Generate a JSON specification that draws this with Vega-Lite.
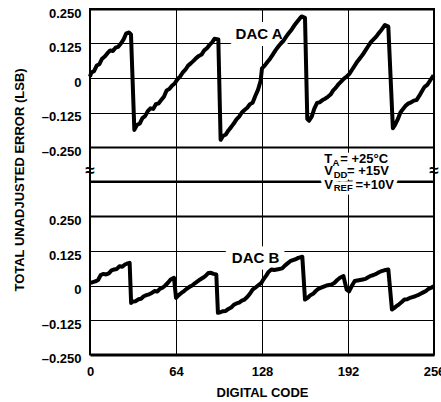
{
  "$schema": "https://vega.github.io/schema/vega-lite/v6.json",
  "padding": {"left": 12, "top": 6, "right": 0, "bottom": 0},
  "spacing": 0,
  "bounds": "flush",
  "resolve": {"scale": {"x": "independent", "y": "independent"}},
  "config": {
    "font": "Liberation Sans",
    "view": {"stroke": "black", "strokeWidth": 2},
    "axis": {
      "labelFont": "Liberation Sans", "labelFontWeight": "bold", "labelFontSize": 13, "labelColor": "black",
      "titleFont": "Liberation Sans", "titleFontWeight": "bold", "titleFontSize": 13, "titleColor": "black",
      "gridColor": "black", "gridOpacity": 1, "domain": false, "ticks": false, "tickSize": 0
    }
  },
  "datasets": {
    "dacA": [
      {"code": 0, "err": 0.005}, {"code": 1, "err": 0.02}, {"code": 3, "err": 0.025}, {"code": 5, "err": 0.045},
      {"code": 7, "err": 0.05}, {"code": 9, "err": 0.07}, {"code": 11, "err": 0.078}, {"code": 13, "err": 0.09},
      {"code": 15, "err": 0.1}, {"code": 17, "err": 0.098}, {"code": 19, "err": 0.11}, {"code": 21, "err": 0.113},
      {"code": 23, "err": 0.125}, {"code": 25, "err": 0.14}, {"code": 27, "err": 0.162}, {"code": 29, "err": 0.165},
      {"code": 30.5, "err": 0.158}, {"code": 33, "err": -0.188}, {"code": 35, "err": -0.17}, {"code": 37, "err": -0.165},
      {"code": 39, "err": -0.145}, {"code": 41, "err": -0.138}, {"code": 43, "err": -0.12}, {"code": 45, "err": -0.11},
      {"code": 47, "err": -0.112}, {"code": 49, "err": -0.095}, {"code": 51, "err": -0.092}, {"code": 53, "err": -0.08},
      {"code": 55, "err": -0.068}, {"code": 57, "err": -0.045}, {"code": 59, "err": -0.04}, {"code": 61, "err": -0.028},
      {"code": 63, "err": -0.02}, {"code": 65, "err": -0.005}, {"code": 67, "err": 0.005}, {"code": 69, "err": 0.02},
      {"code": 71, "err": 0.03}, {"code": 73, "err": 0.045}, {"code": 75, "err": 0.053}, {"code": 77, "err": 0.062},
      {"code": 79, "err": 0.072}, {"code": 81, "err": 0.08}, {"code": 83, "err": 0.085}, {"code": 85, "err": 0.1},
      {"code": 87, "err": 0.108}, {"code": 89, "err": 0.12}, {"code": 91, "err": 0.13}, {"code": 92.6, "err": 0.142},
      {"code": 95.5, "err": 0.14}, {"code": 97.2, "err": -0.224}, {"code": 99, "err": -0.21}, {"code": 101, "err": -0.205},
      {"code": 103, "err": -0.19}, {"code": 105, "err": -0.178}, {"code": 107, "err": -0.165}, {"code": 109, "err": -0.15},
      {"code": 111, "err": -0.14}, {"code": 113, "err": -0.125}, {"code": 115, "err": -0.116}, {"code": 117, "err": -0.108},
      {"code": 119, "err": -0.095}, {"code": 121, "err": -0.09}, {"code": 123, "err": -0.065}, {"code": 125, "err": -0.043},
      {"code": 127, "err": -0.01}, {"code": 128, "err": 0.035}, {"code": 130, "err": 0.045}, {"code": 132, "err": 0.058},
      {"code": 134, "err": 0.07}, {"code": 136, "err": 0.085}, {"code": 138, "err": 0.1}, {"code": 140, "err": 0.113},
      {"code": 142, "err": 0.125}, {"code": 144, "err": 0.135}, {"code": 146, "err": 0.15}, {"code": 148, "err": 0.163},
      {"code": 150, "err": 0.175}, {"code": 152, "err": 0.19}, {"code": 154, "err": 0.203}, {"code": 156, "err": 0.215},
      {"code": 157.5, "err": 0.223}, {"code": 160, "err": 0.218}, {"code": 161.7, "err": -0.148}, {"code": 163, "err": -0.155},
      {"code": 165, "err": -0.14}, {"code": 167, "err": -0.11}, {"code": 169, "err": -0.09}, {"code": 171, "err": -0.088},
      {"code": 173, "err": -0.08}, {"code": 175, "err": -0.075}, {"code": 177, "err": -0.068}, {"code": 179, "err": -0.06},
      {"code": 181, "err": -0.045}, {"code": 183, "err": -0.035}, {"code": 185, "err": -0.022}, {"code": 187, "err": -0.012},
      {"code": 189, "err": -0.002}, {"code": 191, "err": 0.005}, {"code": 193, "err": 0.015}, {"code": 195, "err": 0.03},
      {"code": 197, "err": 0.045}, {"code": 199, "err": 0.06}, {"code": 201, "err": 0.072}, {"code": 203, "err": 0.085},
      {"code": 205, "err": 0.1}, {"code": 207, "err": 0.115}, {"code": 209, "err": 0.13}, {"code": 211, "err": 0.14},
      {"code": 213, "err": 0.15}, {"code": 215, "err": 0.163}, {"code": 217, "err": 0.175}, {"code": 219.5, "err": 0.192},
      {"code": 222, "err": 0.186}, {"code": 225.4, "err": -0.182}, {"code": 227, "err": -0.17}, {"code": 229, "err": -0.15},
      {"code": 231, "err": -0.125}, {"code": 233, "err": -0.112}, {"code": 235, "err": -0.1}, {"code": 237, "err": -0.092},
      {"code": 239, "err": -0.088}, {"code": 241, "err": -0.082}, {"code": 243, "err": -0.08}, {"code": 245, "err": -0.065},
      {"code": 247, "err": -0.048}, {"code": 249, "err": -0.032}, {"code": 251, "err": -0.025}, {"code": 253, "err": -0.01},
      {"code": 255.7, "err": 0.01}
    ],
    "dacB": [
      {"code": 0, "err": 0.01}, {"code": 2, "err": 0.012}, {"code": 4, "err": 0.015}, {"code": 6, "err": 0.02},
      {"code": 8, "err": 0.038}, {"code": 10, "err": 0.042}, {"code": 12, "err": 0.04}, {"code": 14, "err": 0.044},
      {"code": 16, "err": 0.055}, {"code": 18, "err": 0.058}, {"code": 20, "err": 0.06}, {"code": 22, "err": 0.07},
      {"code": 24, "err": 0.068}, {"code": 26, "err": 0.076}, {"code": 28, "err": 0.08}, {"code": 29.5, "err": 0.082},
      {"code": 30.6, "err": -0.063}, {"code": 32, "err": -0.058}, {"code": 34, "err": -0.057}, {"code": 36, "err": -0.05},
      {"code": 38, "err": -0.048}, {"code": 40, "err": -0.039}, {"code": 42, "err": -0.035}, {"code": 44, "err": -0.032},
      {"code": 46, "err": -0.027}, {"code": 48, "err": -0.02}, {"code": 50, "err": -0.022}, {"code": 52, "err": -0.012},
      {"code": 54, "err": -0.008}, {"code": 56, "err": 0.0}, {"code": 58, "err": 0.01}, {"code": 60, "err": 0.022},
      {"code": 62.5, "err": 0.028}, {"code": 64, "err": -0.045}, {"code": 66, "err": -0.035}, {"code": 68, "err": -0.027},
      {"code": 70, "err": -0.02}, {"code": 72, "err": -0.012}, {"code": 74, "err": -0.005}, {"code": 76, "err": 0.0},
      {"code": 78, "err": 0.008}, {"code": 80, "err": 0.015}, {"code": 82, "err": 0.022}, {"code": 84, "err": 0.028},
      {"code": 86, "err": 0.035}, {"code": 88, "err": 0.045}, {"code": 90, "err": 0.046}, {"code": 92, "err": 0.042},
      {"code": 94, "err": 0.04}, {"code": 95.2, "err": -0.099}, {"code": 97, "err": -0.097}, {"code": 99, "err": -0.093},
      {"code": 101, "err": -0.092}, {"code": 103, "err": -0.085}, {"code": 105, "err": -0.08}, {"code": 107, "err": -0.07},
      {"code": 109, "err": -0.065}, {"code": 111, "err": -0.062}, {"code": 113, "err": -0.055}, {"code": 115, "err": -0.051},
      {"code": 117, "err": -0.042}, {"code": 119, "err": -0.03}, {"code": 121, "err": -0.015}, {"code": 123, "err": -0.008},
      {"code": 125, "err": 0.0}, {"code": 127.6, "err": 0.01}, {"code": 129, "err": 0.022}, {"code": 131, "err": 0.035},
      {"code": 133, "err": 0.05}, {"code": 135, "err": 0.058}, {"code": 137, "err": 0.056}, {"code": 139, "err": 0.058},
      {"code": 141, "err": 0.06}, {"code": 143, "err": 0.062}, {"code": 145, "err": 0.072}, {"code": 147, "err": 0.08},
      {"code": 149, "err": 0.088}, {"code": 151, "err": 0.092}, {"code": 153, "err": 0.095}, {"code": 155, "err": 0.1},
      {"code": 158, "err": 0.104}, {"code": 160, "err": -0.051}, {"code": 162, "err": -0.045}, {"code": 164, "err": -0.035},
      {"code": 166, "err": -0.03}, {"code": 168, "err": -0.02}, {"code": 170, "err": -0.012}, {"code": 172, "err": -0.008},
      {"code": 174, "err": -0.004}, {"code": 176, "err": 0.0}, {"code": 178, "err": 0.002}, {"code": 180, "err": 0.004},
      {"code": 182, "err": 0.01}, {"code": 184, "err": 0.02}, {"code": 186, "err": 0.028}, {"code": 188.6, "err": 0.034},
      {"code": 191, "err": -0.015}, {"code": 192.8, "err": -0.021}, {"code": 195, "err": 0.0}, {"code": 197, "err": 0.016},
      {"code": 199, "err": 0.018}, {"code": 201, "err": 0.02}, {"code": 203, "err": 0.022}, {"code": 205, "err": 0.024},
      {"code": 207, "err": 0.03}, {"code": 209, "err": 0.035}, {"code": 211, "err": 0.038}, {"code": 213, "err": 0.042},
      {"code": 215, "err": 0.048}, {"code": 217, "err": 0.052}, {"code": 219, "err": 0.055}, {"code": 222, "err": 0.058},
      {"code": 224.7, "err": -0.087}, {"code": 226, "err": -0.083}, {"code": 228, "err": -0.075}, {"code": 230, "err": -0.068},
      {"code": 232, "err": -0.06}, {"code": 234, "err": -0.051}, {"code": 236, "err": -0.05}, {"code": 238, "err": -0.045},
      {"code": 240, "err": -0.042}, {"code": 242, "err": -0.039}, {"code": 244, "err": -0.035}, {"code": 246, "err": -0.03},
      {"code": 248, "err": -0.025}, {"code": 250, "err": -0.02}, {"code": 252, "err": -0.012}, {"code": 254, "err": -0.008},
      {"code": 255.7, "err": -0.003}
    ],
    "notes": [
      {"panel": "A", "role": "dac", "code": 125.8, "err": 0.159, "label": "DAC A"},
      {"panel": "B", "role": "dac", "code": 123.2, "err": 0.099, "label": "DAC B"},
      {"panel": "B", "role": "main", "code": 174.4, "err": 0.4574, "label": "T"},
      {"panel": "B", "role": "main", "code": 186.2, "err": 0.4574, "label": "= +25°C"},
      {"panel": "B", "role": "main", "code": 174.4, "err": 0.4136, "label": "V"},
      {"panel": "B", "role": "main", "code": 191.2, "err": 0.4136, "label": "= +15V"},
      {"panel": "B", "role": "main", "code": 174.4, "err": 0.3644, "label": "V"},
      {"panel": "B", "role": "main", "code": 197.6, "err": 0.3644, "label": "=+10V"},
      {"panel": "B", "role": "sub", "code": 180.4, "err": 0.4446, "label": "A"},
      {"panel": "B", "role": "sub", "code": 181.4, "err": 0.3998, "label": "DD"},
      {"panel": "B", "role": "sub", "code": 181.4, "err": 0.3524, "label": "REF"},
      {"panel": "B", "role": "brk", "code": 0, "err": 0.4155, "label": "≈"},
      {"panel": "B", "role": "brk", "code": 256, "err": 0.4155, "label": "≈"}
    ]
  },
  "vconcat": [
    {
      "width": 344,
      "height": 172.5,
      "encoding": {
        "x": {"field": "code", "type": "quantitative", "scale": {"domain": [0, 256], "nice": false, "zero": false},
              "axis": {"values": [64, 128, 192], "grid": true, "gridWidth": 1, "labels": false, "title": null, "orient": "bottom"}},
        "y": {"field": "err", "type": "quantitative", "scale": {"domain": [-0.375, 0.25], "nice": false, "zero": false},
              "axis": {"values": [-0.25, -0.125, 0, 0.125, 0.25],
                       "labelExpr": "datum.value == 0 ? '0' : (datum.value < 0 ? '\u2013' + format(-datum.value, '.3f') : format(datum.value, '.3f'))",
                       "labelPadding": 9, "labelOffset": 4, "grid": true,
                       "gridWidth": {"condition": {"test": "abs(datum.value) == 0.25", "value": 2}, "value": 1},
                       "title": "TOTAL UNADJUSTED ERROR (LSB)", "titleX": -67, "titleY": 170.5, "titleAngle": 270,
                       "titleAlign": "center", "titleBaseline": "alphabetic"}}
      },
      "layer": [
        {"data": {"name": "notes"}, "transform": [{"filter": "datum.panel == 'A' && datum.role == 'dac'"}],
         "mark": {"type": "text", "fontSize": 15, "fontWeight": "bold", "fill": "white", "stroke": "white", "strokeWidth": 14, "strokeJoin": "round", "align": "center", "baseline": "middle"},
         "encoding": {"text": {"field": "label"}}},
        {"data": {"name": "dacA"}, "mark": {"type": "line", "color": "black", "strokeWidth": 4, "strokeJoin": "round"}},
        {"data": {"name": "notes"}, "transform": [{"filter": "datum.panel == 'A' && datum.role == 'dac'"}],
         "mark": {"type": "text", "fontSize": 15, "fontWeight": "bold", "color": "black", "align": "center", "baseline": "middle"},
         "encoding": {"text": {"field": "label"}}}
      ]
    },
    {
      "width": 344,
      "height": 172.5,
      "encoding": {
        "x": {"field": "code", "type": "quantitative", "scale": {"domain": [0, 256], "nice": false, "zero": false},
              "axis": {"values": [0, 64, 128, 192, 256], "grid": true, "gridWidth": 1, "labelPadding": 11, "labelAngle": 0,
                       "labelFlush": false, "title": "DIGITAL CODE", "titlePadding": 8}},
        "y": {"field": "err", "type": "quantitative", "scale": {"domain": [-0.25, 0.375], "nice": false, "zero": false},
              "axis": {"values": [-0.25, -0.125, 0, 0.125, 0.25],
                       "labelExpr": "datum.value == 0 ? '0' : (datum.value < 0 ? '\u2013' + format(-datum.value, '.3f') : format(datum.value, '.3f'))",
                       "labelPadding": 9, "labelOffset": 4, "grid": true,
                       "gridWidth": {"condition": {"test": "abs(datum.value) == 0.25", "value": 2}, "value": 1},
                       "title": null}}
      },
      "layer": [
        {"data": {"name": "notes"}, "transform": [{"filter": "datum.panel == 'B' && datum.role == 'dac'"}],
         "mark": {"type": "text", "fontSize": 15, "fontWeight": "bold", "fill": "white", "stroke": "white", "strokeWidth": 14, "strokeJoin": "round", "align": "center", "baseline": "middle"},
         "encoding": {"text": {"field": "label"}}},
        {"data": {"name": "notes"}, "transform": [{"filter": "datum.role == 'main'"}],
         "mark": {"type": "text", "fontSize": 13, "fontWeight": "bold", "fill": "white", "stroke": "white", "strokeWidth": 7, "strokeJoin": "round", "align": "left", "baseline": "middle"},
         "encoding": {"text": {"field": "label"}}},
        {"data": {"name": "notes"}, "transform": [{"filter": "datum.role == 'sub'"}],
         "mark": {"type": "text", "fontSize": 9.5, "fontWeight": "bold", "fill": "white", "stroke": "white", "strokeWidth": 7, "strokeJoin": "round", "align": "left", "baseline": "middle"},
         "encoding": {"text": {"field": "label"}}},
        {"data": {"name": "dacB"}, "mark": {"type": "line", "color": "black", "strokeWidth": 4, "strokeJoin": "round"}},
        {"data": {"name": "notes"}, "transform": [{"filter": "datum.panel == 'B' && datum.role == 'dac'"}],
         "mark": {"type": "text", "fontSize": 15, "fontWeight": "bold", "color": "black", "align": "center", "baseline": "middle"},
         "encoding": {"text": {"field": "label"}}},
        {"data": {"name": "notes"}, "transform": [{"filter": "datum.role == 'main'"}],
         "mark": {"type": "text", "fontSize": 13, "fontWeight": "bold", "color": "black", "align": "left", "baseline": "middle"},
         "encoding": {"text": {"field": "label"}}},
        {"data": {"name": "notes"}, "transform": [{"filter": "datum.role == 'sub'"}],
         "mark": {"type": "text", "fontSize": 9.5, "fontWeight": "bold", "color": "black", "align": "left", "baseline": "middle"},
         "encoding": {"text": {"field": "label"}}},
        {"data": {"name": "notes"}, "transform": [{"filter": "datum.role == 'brk'"}],
         "mark": {"type": "text", "fontSize": 17, "fontWeight": "bold", "color": "black", "align": "center", "baseline": "middle"},
         "encoding": {"text": {"field": "label"}}}
      ]
    }
  ]
}
